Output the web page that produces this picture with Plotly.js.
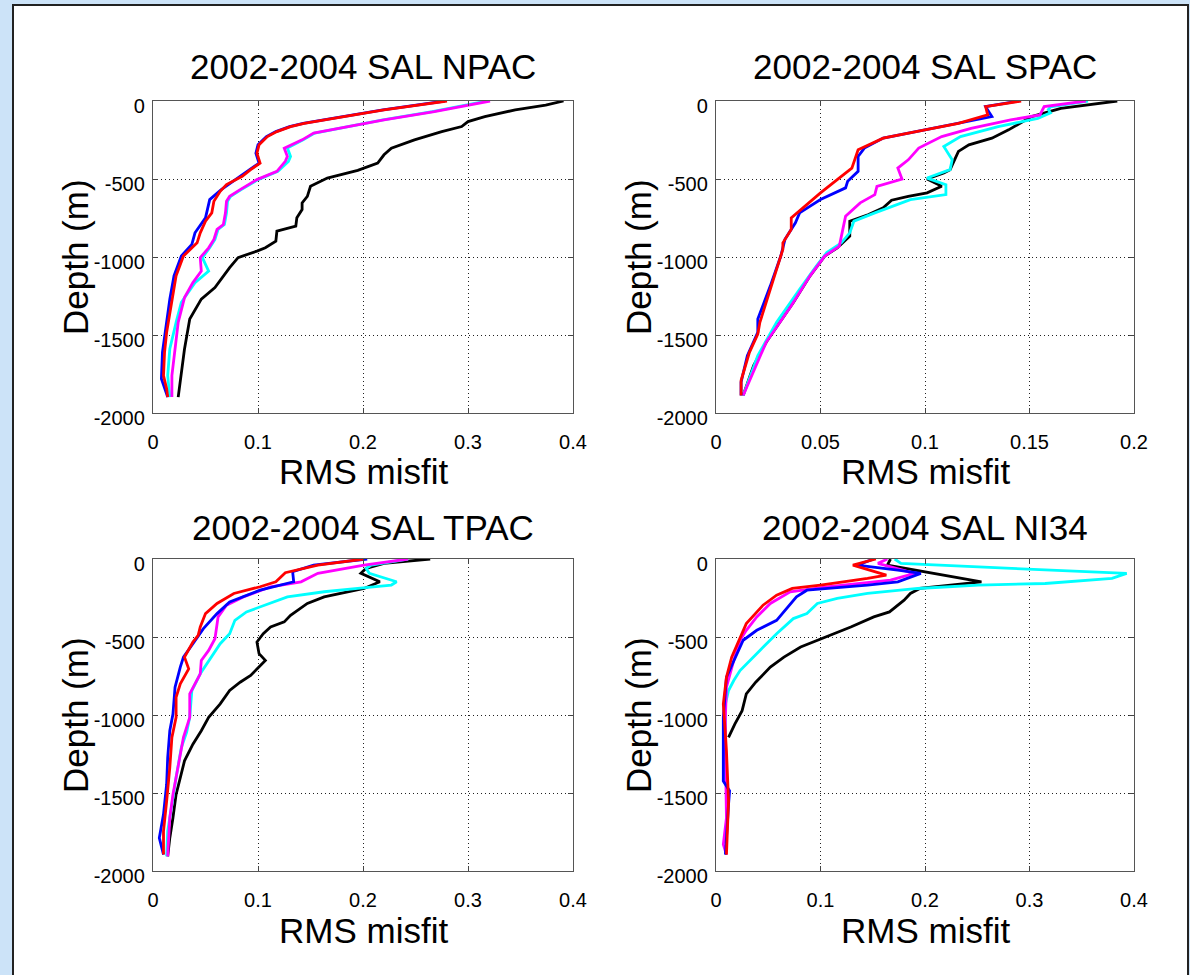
<!DOCTYPE html>
<html>
<head>
<meta charset="utf-8">
<script src="https://cdn.plot.ly/plotly-3.0.1.min.js"></script>
<style>
  html, body { margin:0; padding:0; width:1190px; height:975px; overflow:hidden; background:#cce3f8; }
  #frame { position:absolute; left:12px; top:4px; width:1173px; height:1000px; border:2px solid #222; background:#ffffff; }
  #chart { position:absolute; left:0; top:0; width:1190px; height:975px; }
</style>
</head>
<body>
<div id="frame"></div>
<div id="chart"></div>
<script>
// ---------- DATA ----------
const panelTitles = ["2002-2004 SAL NPAC", "2002-2004 SAL SPAC", "2002-2004 SAL TPAC", "2002-2004 SAL NI34"];
const xLabel = "RMS misfit";
const yLabel = "Depth (m)";
const yTickVals = [-2000, -1500, -1000, -500, 0];
const xTicks04 = [0, 0.1, 0.2, 0.3, 0.4];
const xTickText04 = ["0", "0.1", "0.2", "0.3", "0.4"];
const xTicks02 = [0, 0.05, 0.1, 0.15, 0.2];
const xTickText02 = ["0", "0.05", "0.1", "0.15", "0.2"];
const seriesColors = ["#000000", "#00ffff", "#ff00ff", "#0000ff", "#ff0000"];

// NPAC
const npacBlackX = [0.391,0.374,0.345,0.316,0.300,0.294,0.275,0.259,0.249,0.227,0.220,0.214,0.201,0.195,0.166,0.150,0.147,0.142,0.142,0.137,0.136,0.118,0.117,0.107,0.099,0.081,0.073,0.059,0.046,0.035,0.030,0.026,0.024];
const npacBlackD = [0,-26,-57,-100,-132,-164,-196,-228,-249,-302,-345,-398,-430,-445,-494,-547,-611,-653,-696,-749,-802,-834,-898,-941,-962,-1004,-1068,-1196,-1270,-1398,-1590,-1781,-1898];
const npacCyanX = [0.318,0.266,0.219,0.176,0.154,0.143,0.133,0.128,0.131,0.129,0.119,0.100,0.084,0.074,0.071,0.070,0.068,0.062,0.059,0.054,0.047,0.053,0.040,0.027,0.022,0.016,0.014,0.016];
const npacCyanD = [0,-68,-121,-175,-206,-249,-281,-302,-355,-387,-451,-504,-568,-611,-643,-717,-792,-823,-887,-941,-1004,-1090,-1164,-1290,-1419,-1590,-1760,-1898];
const npacMagentaX = [0.321,0.268,0.220,0.176,0.153,0.142,0.131,0.125,0.128,0.126,0.118,0.099,0.083,0.073,0.070,0.069,0.067,0.061,0.058,0.053,0.045,0.046,0.038,0.030,0.024,0.021,0.018,0.018];
const npacMagentaD = [0,-68,-121,-175,-206,-249,-281,-302,-355,-387,-451,-504,-568,-611,-643,-717,-792,-823,-887,-941,-1004,-1090,-1164,-1260,-1419,-1590,-1760,-1898];
const npacBlueX = [0.278,0.219,0.171,0.143,0.130,0.117,0.108,0.100,0.098,0.101,0.092,0.083,0.065,0.054,0.050,0.040,0.037,0.027,0.020,0.016,0.012,0.009,0.008,0.014];
const npacBlueD = [0,-57,-111,-143,-164,-196,-228,-281,-334,-398,-440,-483,-568,-632,-749,-845,-919,-994,-1121,-1270,-1483,-1611,-1781,-1898];
const npacRedX = [0.280,0.220,0.172,0.144,0.131,0.118,0.109,0.101,0.099,0.102,0.093,0.085,0.070,0.064,0.058,0.056,0.050,0.045,0.042,0.029,0.022,0.018,0.013,0.011,0.010,0.013,0.014];
const npacRedD = [0,-57,-111,-143,-164,-196,-228,-281,-334,-398,-440,-483,-536,-579,-643,-717,-770,-845,-909,-994,-1121,-1270,-1483,-1611,-1760,-1845,-1898];

// SPAC
const spacBlackX = [0.192,0.178,0.165,0.151,0.140,0.132,0.121,0.116,0.114,0.112,0.109,0.101,0.108,0.101,0.092,0.084,0.080,0.073,0.064,0.064,0.058,0.052,0.045,0.037,0.024,0.018,0.013];
const spacBlackD = [0,-26,-47,-100,-185,-238,-281,-323,-387,-440,-462,-500,-547,-589,-611,-636,-685,-728,-770,-866,-941,-994,-1121,-1292,-1547,-1696,-1888];
const spacCyanX = [0.178,0.160,0.159,0.160,0.154,0.135,0.117,0.109,0.113,0.112,0.101,0.110,0.110,0.093,0.076,0.066,0.064,0.060,0.053,0.048,0.040,0.029,0.020,0.013];
const spacCyanD = [0,-38,-55,-76,-111,-164,-228,-292,-377,-440,-494,-536,-600,-632,-717,-770,-845,-909,-972,-1058,-1207,-1419,-1632,-1888];
const spacMagentaX = [0.177,0.157,0.155,0.141,0.122,0.108,0.097,0.092,0.087,0.089,0.077,0.076,0.069,0.062,0.061,0.059,0.052,0.045,0.036,0.024,0.013];
const spacMagentaD = [0,-36,-89,-121,-175,-228,-302,-377,-430,-500,-547,-600,-653,-738,-802,-930,-994,-1121,-1313,-1547,-1888];
const spacBlueX = [0.145,0.129,0.132,0.116,0.100,0.080,0.071,0.068,0.068,0.063,0.062,0.050,0.040,0.038,0.033,0.031,0.026,0.020,0.020,0.015,0.012,0.012];
const spacBlueD = [0,-36,-100,-143,-185,-238,-302,-355,-451,-515,-557,-632,-717,-781,-887,-994,-1185,-1398,-1483,-1632,-1802,-1888];
const spacRedX = [0.146,0.129,0.130,0.116,0.100,0.080,0.068,0.065,0.058,0.050,0.036,0.036,0.032,0.032,0.028,0.021,0.020,0.016,0.012,0.012];
const spacRedD = [0,-36,-89,-143,-185,-238,-313,-430,-504,-589,-749,-823,-909,-951,-1121,-1419,-1494,-1611,-1792,-1888];

// TPAC
const tpacBlackX = [0.264,0.220,0.203,0.198,0.216,0.201,0.163,0.147,0.131,0.125,0.112,0.105,0.099,0.101,0.107,0.099,0.093,0.083,0.073,0.064,0.053,0.046,0.038,0.030,0.026,0.022,0.019,0.016,0.014];
const tpacBlackD = [0,-28,-60,-92,-146,-189,-243,-285,-361,-403,-436,-479,-532,-607,-650,-704,-747,-790,-843,-929,-1015,-1101,-1187,-1294,-1401,-1509,-1659,-1788,-1906];
const tpacCyanX = [0.243,0.208,0.203,0.206,0.232,0.227,0.195,0.163,0.128,0.102,0.089,0.078,0.073,0.064,0.053,0.045,0.037,0.035,0.032,0.027,0.022,0.018,0.014,0.013];
const tpacCyanD = [0,-39,-60,-92,-146,-167,-189,-210,-243,-307,-339,-393,-479,-543,-650,-736,-843,-1015,-1112,-1208,-1401,-1573,-1745,-1906];
const tpacMagentaX = [0.243,0.201,0.157,0.141,0.112,0.086,0.070,0.062,0.059,0.053,0.046,0.045,0.035,0.035,0.029,0.024,0.019,0.016,0.014];
const tpacMagentaD = [0,-39,-92,-146,-178,-243,-296,-371,-511,-586,-650,-736,-865,-1015,-1144,-1337,-1509,-1659,-1906];
const tpacBlueX = [0.204,0.153,0.133,0.134,0.102,0.073,0.061,0.048,0.038,0.029,0.026,0.021,0.019,0.016,0.014,0.013,0.010,0.006,0.010];
const tpacBlueD = [0,-39,-82,-146,-200,-275,-350,-446,-543,-629,-693,-822,-994,-1101,-1273,-1444,-1637,-1788,-1895];
const tpacRedX = [0.201,0.157,0.126,0.117,0.102,0.077,0.061,0.050,0.045,0.043,0.038,0.030,0.034,0.026,0.022,0.022,0.018,0.016,0.013,0.010,0.010];
const tpacRedD = [0,-39,-88,-146,-178,-221,-285,-350,-436,-489,-532,-629,-704,-800,-886,-1015,-1144,-1337,-1552,-1745,-1895];

// NI34
const ni34BlackX = [0.167,0.164,0.254,0.195,0.186,0.180,0.166,0.151,0.129,0.100,0.081,0.065,0.052,0.038,0.029,0.025,0.018,0.012];
const ni34BlackD = [0,-39,-146,-189,-221,-264,-339,-371,-436,-511,-564,-629,-693,-790,-865,-972,-1058,-1144];
const ni34CyanX = [0.171,0.177,0.283,0.393,0.379,0.315,0.251,0.193,0.145,0.116,0.097,0.087,0.074,0.058,0.042,0.033,0.023,0.017,0.012,0.009,0.009,0.007];
const ni34CyanD = [0,-28,-60,-92,-124,-157,-167,-189,-221,-253,-285,-350,-382,-479,-586,-650,-715,-779,-843,-929,-1122,-1423];
const ni34MagentaX = [0.164,0.155,0.190,0.167,0.106,0.071,0.052,0.039,0.029,0.023,0.017,0.010,0.009,0.009,0.010,0.007,0.010];
const ni34MagentaD = [0,-28,-92,-135,-178,-210,-285,-371,-457,-521,-650,-822,-1015,-1230,-1659,-1830,-1895];
const ni34BlueX = [0.151,0.135,0.174,0.196,0.174,0.145,0.087,0.077,0.058,0.039,0.026,0.020,0.010,0.009,0.007,0.007,0.013,0.012,0.009];
const ni34BlueD = [0,-39,-71,-92,-146,-167,-200,-243,-393,-457,-521,-607,-758,-843,-1015,-1423,-1487,-1573,-1895];
const ni34RedX = [0.153,0.131,0.163,0.145,0.100,0.073,0.058,0.045,0.029,0.022,0.015,0.010,0.007,0.009,0.010,0.012,0.010];
const ni34RedD = [0,-39,-103,-124,-167,-189,-232,-296,-414,-521,-629,-758,-929,-1122,-1230,-1552,-1895];

// ---------- BUILD ----------
const panels = [
  {xa:"x",  ya:"y",  series:[[npacBlackX,npacBlackD],[npacCyanX,npacCyanD],[npacMagentaX,npacMagentaD],[npacBlueX,npacBlueD],[npacRedX,npacRedD]]},
  {xa:"x2", ya:"y2", series:[[spacBlackX,spacBlackD],[spacCyanX,spacCyanD],[spacMagentaX,spacMagentaD],[spacBlueX,spacBlueD],[spacRedX,spacRedD]]},
  {xa:"x3", ya:"y3", series:[[tpacBlackX,tpacBlackD],[tpacCyanX,tpacCyanD],[tpacMagentaX,tpacMagentaD],[tpacBlueX,tpacBlueD],[tpacRedX,tpacRedD]]},
  {xa:"x4", ya:"y4", series:[[ni34BlackX,ni34BlackD],[ni34CyanX,ni34CyanD],[ni34MagentaX,ni34MagentaD],[ni34BlueX,ni34BlueD],[ni34RedX,ni34RedD]]}
];
const traces = [];
panels.forEach(p => {
  p.series.forEach((s, i) => {
    traces.push({x:s[0], y:s[1], xaxis:p.xa, yaxis:p.ya, type:"scatter", mode:"lines",
      line:{color:seriesColors[i], width:2.8}, showlegend:false, hoverinfo:"skip"});
  });
});

const W = 1190, H = 975;
const colX = [[153,573],[716,1134]];
const rowY = [[101,413],[559,871]];
const font = {family:"'Liberation Sans', Arial, Helvetica, sans-serif", color:"#000"};

function xAxis(col, row, ticks, text, anchor) {
  return {domain:[colX[col][0]/W, colX[col][1]/W], anchor:anchor, range:[0, ticks[ticks.length-1]],
    tickvals:ticks, ticktext:text, ticks:"inside", ticklen:5, tickcolor:"#444",
    showline:true, linecolor:"#555", linewidth:1.2, mirror:"ticks",
    showgrid:true, gridcolor:"#222", griddash:"1px,3px", gridwidth:1, zeroline:false,
    tickfont:Object.assign({size:20}, font), ticklabelstandoff:11, fixedrange:true};
}
function yAxis(col, row, anchor) {
  return {domain:[1-rowY[row][1]/H, 1-rowY[row][0]/H], anchor:anchor, range:[-2000, 0],
    tickvals:yTickVals, ticktext:yTickVals.map(String), ticks:"inside", ticklen:5, tickcolor:"#444",
    showline:true, linecolor:"#555", linewidth:1.2, mirror:"ticks",
    showgrid:true, gridcolor:"#222", griddash:"1px,3px", gridwidth:1, zeroline:false,
    tickfont:Object.assign({size:20}, font), ticklabelstandoff:3, ticklabelshift:5, fixedrange:true};
}

const annotations = [];
const pos = [[0,0],[1,0],[0,1],[1,1]];
pos.forEach((cr, k) => {
  const c = cr[0], r = cr[1];
  const cx = (colX[c][0]+colX[c][1])/2/W;
  const cy = 1-(rowY[r][0]+rowY[r][1])/2/H;
  const titleY = r===0 ? 67 : 527;
  const xlabY = r===0 ? 472 : 930;
  const ylabX = c===0 ? 75 : 638;
  annotations.push({text:panelTitles[k], xref:"paper", yref:"paper", x:cx, y:1-titleY/H, xanchor:"center", yanchor:"middle", showarrow:false, font:Object.assign({size:35}, font)});
  annotations.push({text:xLabel, xref:"paper", yref:"paper", x:cx, y:1-xlabY/H, xanchor:"center", yanchor:"middle", showarrow:false, font:Object.assign({size:35}, font)});
  annotations.push({text:yLabel, xref:"paper", yref:"paper", x:ylabX/W, y:cy, xanchor:"center", yanchor:"middle", textangle:-90, showarrow:false, font:Object.assign({size:35}, font)});
});

const layout = {
  width:W, height:H, margin:{l:0,r:0,t:0,b:0},
  paper_bgcolor:"rgba(0,0,0,0)", plot_bgcolor:"#ffffff",
  font:font, showlegend:false,
  xaxis: xAxis(0,0,xTicks04,xTickText04,"y"),
  yaxis: yAxis(0,0,"x"),
  xaxis2: xAxis(1,0,xTicks02,xTickText02,"y2"),
  yaxis2: yAxis(1,0,"x2"),
  xaxis3: xAxis(0,1,xTicks04,xTickText04,"y3"),
  yaxis3: yAxis(0,1,"x3"),
  xaxis4: xAxis(1,1,xTicks04,xTickText04,"y4"),
  yaxis4: yAxis(1,1,"x4"),
  annotations:annotations
};
Plotly.newPlot("chart", traces, layout, {staticPlot:true, displayModeBar:false});
</script>
</body>
</html>
